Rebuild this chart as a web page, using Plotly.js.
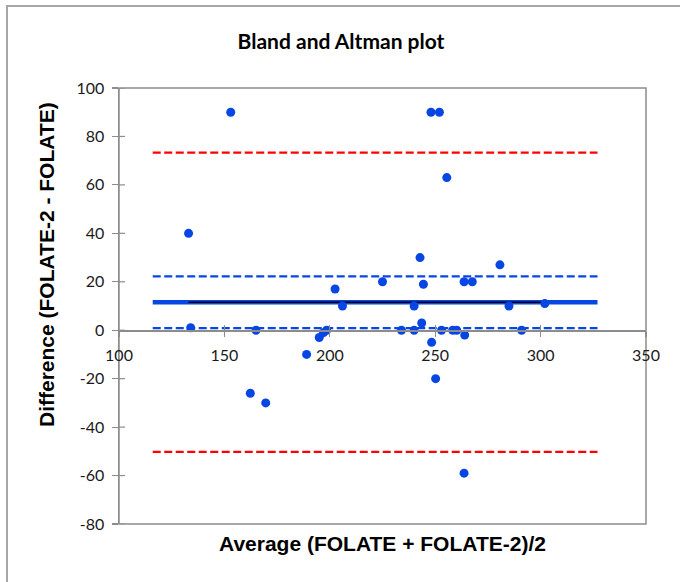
<!DOCTYPE html>
<html>
<head>
<meta charset="utf-8">
<script src="https://cdn.plot.ly/plotly-3.0.1.min.js"></script>
<style>
html,body{margin:0;padding:0;background:#fff;overflow:hidden;}
#wrap{position:relative;width:680px;height:582px;overflow:hidden;}
#chart{width:680px;height:582px;}
#frame{position:absolute;left:6px;top:5px;width:720px;height:640px;border-top:2px solid #a6a6a6;border-left:2px solid #a6a6a6;pointer-events:none;}
</style>
</head>
<body>
<div id="wrap"><div id="chart"></div><div id="frame"></div></div>
<script>
// Data
const avgValues  = [153, 248, 252, 255.5, 133, 134, 165, 189, 195, 197, 198.5, 202.5, 206, 225, 242.8, 244.4, 240, 234, 240, 243.6, 248.3, 253, 258.3, 260.2, 264, 263.7, 267.6, 280.7, 285, 291, 302, 162.3, 169.6, 250.2, 263.7];
const diffValues = [90, 90, 90, 63, 40, 1, 0, -10, -3, -1, 0, 17, 10, 20, 30, 19, 10, 0, 0, 3, -5, 0, 0, 0, -2, 20, 20, 27, 10, 0, 11, -26, -30, -20, -59];
const lineSpanX  = [116, 327];          // extent of the horizontal reference lines
const dataSpanX  = [133, 302];          // extent of the black mean line
const meanDiff   = 11.55;
const upperLoA   = 73.3;
const lowerLoA   = -50.2;
const upperCI    = 22.2;
const lowerCI    = 0.9;
const xTickVals  = [100, 150, 200, 250, 300, 350];
const yTickVals  = [-80, -60, -40, -20, 0, 20, 40, 60, 80, 100];

const blue = '#0846e4';
const red  = '#ff0000';
const axisGray = '#8c8c8c';
const tickFont = {family: 'Lato, "Open Sans", sans-serif', size: 16, color: '#1a1a1a'};

const hline = (y, color, width, dash, xs) => ({
  x: xs, y: [y, y], mode: 'lines', type: 'scatter', hoverinfo: 'skip', showlegend: false,
  line: {color: color, width: width, dash: dash}
});

const traces = [
  hline(upperLoA, red, 2.2, '8px,3.5px', lineSpanX),
  hline(lowerLoA, red, 2.2, '8px,3.5px', lineSpanX),
  hline(upperCI, blue, 2.2, '8px,3.5px', lineSpanX),
  hline(lowerCI, blue, 2.2, '8px,3.5px', lineSpanX),
  hline(meanDiff, blue, 4.5, 'solid', lineSpanX),
  hline(meanDiff, '#000000', 1.5, 'solid', dataSpanX),
  {
    x: avgValues, y: diffValues, mode: 'markers', type: 'scatter', showlegend: false,
    marker: {color: blue, size: 9}
  },
  { // invisible trace for the inside half of the crossing x ticks
    x: [100], y: [0], xaxis: 'x2', mode: 'markers', type: 'scatter', showlegend: false,
    marker: {opacity: 0}, hoverinfo: 'skip'
  }
];

const zeroPos = (0 - (-80)) / 180;
const PW = 527, PH = 436, PT = 88, PL = 119;
const px = x => (x - PL) / PW;          // pixel -> paper x
const py = y => (PT + PH - y) / PH;     // pixel -> paper y

const layout = {
  width: 680, height: 582,
  margin: {l: 119, r: 34, t: 88, b: 58, pad: 0},
  paper_bgcolor: '#ffffff', plot_bgcolor: '#ffffff',
  showlegend: false,
  title: {
    text: '<b>Bland and Altman plot</b>',
    font: {family: 'Lato, "Open Sans", sans-serif', size: 21, color: '#000'},
    x: 341/680, xref: 'container', xanchor: 'center', y: 1 - 42/582, yref: 'container', yanchor: 'middle'
  },
  xaxis: {
    range: [100, 350], tickvals: xTickVals, ticktext: xTickVals.map(String),
    anchor: 'free', position: zeroPos,
    showline: true, linecolor: axisGray, linewidth: 1.5,
    ticks: 'outside', ticklen: 5, tickwidth: 1.2, tickcolor: axisGray,
    ticklabelstandoff: 5,
    showgrid: false, zeroline: false,
    tickfont: tickFont
  },
  xaxis2: {
    range: [100, 350], tickvals: xTickVals, overlaying: 'x',
    anchor: 'free', position: zeroPos, showline: false,
    ticks: 'inside', ticklen: 5, tickwidth: 1.2, tickcolor: axisGray,
    showticklabels: false, showgrid: false, zeroline: false
  },
  yaxis: {
    range: [-80, 100], tickvals: yTickVals, ticktext: yTickVals.map(String),
    showline: true, linecolor: axisGray, linewidth: 1.5,
    ticks: 'outside', ticklen: 6, tickwidth: 1.2, tickcolor: axisGray,
    ticklabelstandoff: 4,
    showgrid: false, zeroline: false,
    tickfont: tickFont
  },
  shapes: [
    {type: 'rect', xref: 'paper', yref: 'paper', x0: 0, x1: 1, y0: 0, y1: 1,
     line: {color: axisGray, width: 1.5}, layer: 'below'},
    // inside halves of crossing y ticks
    ...yTickVals.map(v => ({type: 'line', xref: 'paper', yref: 'y', x0: 0, x1: 6/PW, y0: v, y1: v,
      line: {color: axisGray, width: 1.2}}))
  ],
  annotations: [
    {text: '<b>Average (FOLATE + FOLATE-2)/2</b>', xref: 'paper', yref: 'paper',
     x: px(382), y: py(543), xanchor: 'center', yanchor: 'middle', showarrow: false,
     font: {family: '"Liberation Sans", Arial, sans-serif', size: 21, color: '#000'}},
    {text: '<b>Difference (FOLATE-2 - FOLATE)</b>', xref: 'paper', yref: 'paper',
     x: px(46), y: py(265), xanchor: 'center', yanchor: 'middle', showarrow: false,
     textangle: -90,
     font: {family: '"Liberation Sans", Arial, sans-serif', size: 21, color: '#000'}}
  ]
};

Plotly.newPlot('chart', traces, layout, {displayModeBar: false, staticPlot: true});
</script>
</body>
</html>
